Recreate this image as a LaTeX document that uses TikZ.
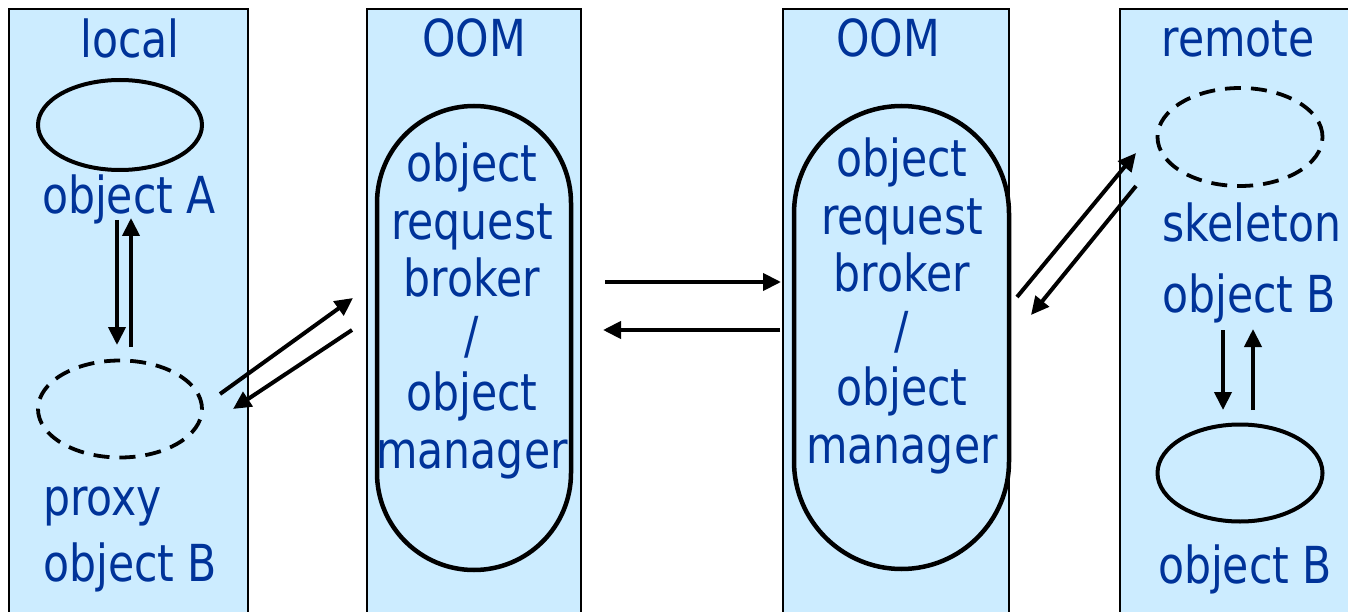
\documentclass[tikz,border=0pt]{standalone}
\usepackage{fontspec}
\setmainfont{DejaVu Sans}[FakeStretch=0.835]
\usetikzlibrary{shapes.geometric,arrows.meta}
\definecolor{panelfill}{HTML}{CCECFF}
\definecolor{labelblue}{HTML}{003399}
\tikzset{
  panel/.style={draw=black, line width=2.2pt, fill=panelfill},
  lbl/.style={text=labelblue, font=\fontsize{51}{57}\selectfont, inner sep=0pt, anchor=base},
  obj/.style={draw=black, line width=4pt, ellipse, inner sep=0pt},
  stub/.style={obj, line width=3.8pt, dash pattern=on 16pt off 10pt},
  capsule/.style={draw=black, line width=4.5pt, inner sep=0pt},
  msg/.style={line width=4pt, -{Triangle[length=18pt,width=17pt]}}
}
\begin{document}
\begin{tikzpicture}[x=1pt, y=-1pt]
\useasboundingbox (0,0) rectangle (1348,612);

% four address-space panels, open at the bottom edge
\path[panel] (9,9) rectangle (248,640);
\path[panel] (367,9) rectangle (581,640);
\path[panel] (783,9) rectangle (1009,640);
\path[panel] (1120,9) rectangle (1370,640);

% panel titles
\node[lbl] (tLocal)  at (130,58)  {local};
\node[lbl] (tOomA)   at (474,57)  {OOM};
\node[lbl] (tOomB)   at (888,57)  {OOM};
\node[lbl] (tRemote) at (1238,57) {remote};

% local side: object A and its proxy for object B
\node[obj, minimum width=164pt, minimum height=90pt] (objA) at (120,125) {};
\node[lbl] (labA) at (129,214) {object A};
\node[stub, minimum width=164pt, minimum height=97pt] (proxy) at (120,409) {};
\node[lbl, anchor=base west] (labProxy) at (43,515) {proxy};
\node[lbl, anchor=base west] (labProxyB) at (43,581) {object B};

% remote side: skeleton and object B
\node[stub, minimum width=165pt, minimum height=98pt] (skel) at (1240,137) {};
\node[lbl, anchor=base west] (labSkel) at (1162,241) {skeleton};
\node[lbl, anchor=base west] (labSkelB) at (1162,312) {object B};
\node[obj, minimum width=165pt, minimum height=97pt] (objB) at (1240,473) {};
\node[lbl] (labB) at (1245,583) {object B};

% the two object request brokers
\node[capsule, minimum width=194pt, minimum height=464pt, rounded corners=97pt] (orbA) at (474,338) {};
\node[capsule, minimum width=215pt, minimum height=463pt, rounded corners=107.5pt] (orbB) at (901.5,337.5) {};
\foreach \t [count=\i] in {object,request,broker,/,object,manager}{
  \node[lbl] (orbA\i) at (472,{182+57.2*(\i-1)}) {\t};
  \node[lbl] (orbB\i) at (902,{177+57.2*(\i-1)}) {\t};
}

% end points of the message arrows
\coordinate (aDownS) at (117,220);  \coordinate (aDownE) at (117,345);
\coordinate (aUpS)   at (131,347);  \coordinate (aUpE)   at (131,218);
\coordinate (pOutS)  at (220,394);  \coordinate (pOutE)  at (353,298);
\coordinate (pInS)   at (352,330);  \coordinate (pInE)   at (233,409);
\coordinate (mOutS)  at (605,282);  \coordinate (mOutE)  at (781,282);
\coordinate (mInS)   at (780,330);  \coordinate (mInE)   at (603,330);
\coordinate (sOutS)  at (1017,297); \coordinate (sOutE)  at (1136,153);
\coordinate (sInS)   at (1136,186); \coordinate (sInE)   at (1031,315);
\coordinate (bDownS) at (1223,330); \coordinate (bDownE) at (1223,410);
\coordinate (bUpS)   at (1253,410); \coordinate (bUpE)   at (1253,329);

\draw[msg] (aDownS) -- (aDownE);
\draw[msg] (aUpS) -- (aUpE);
\draw[msg] (pOutS) -- (pOutE);
\draw[msg] (pInS) -- (pInE);
\draw[msg] (mOutS) -- (mOutE);
\draw[msg] (mInS) -- (mInE);
\draw[msg] (sOutS) -- (sOutE);
\draw[msg] (sInS) -- (sInE);
\draw[msg] (bDownS) -- (bDownE);
\draw[msg] (bUpS) -- (bUpE);
\end{tikzpicture}
\end{document}
